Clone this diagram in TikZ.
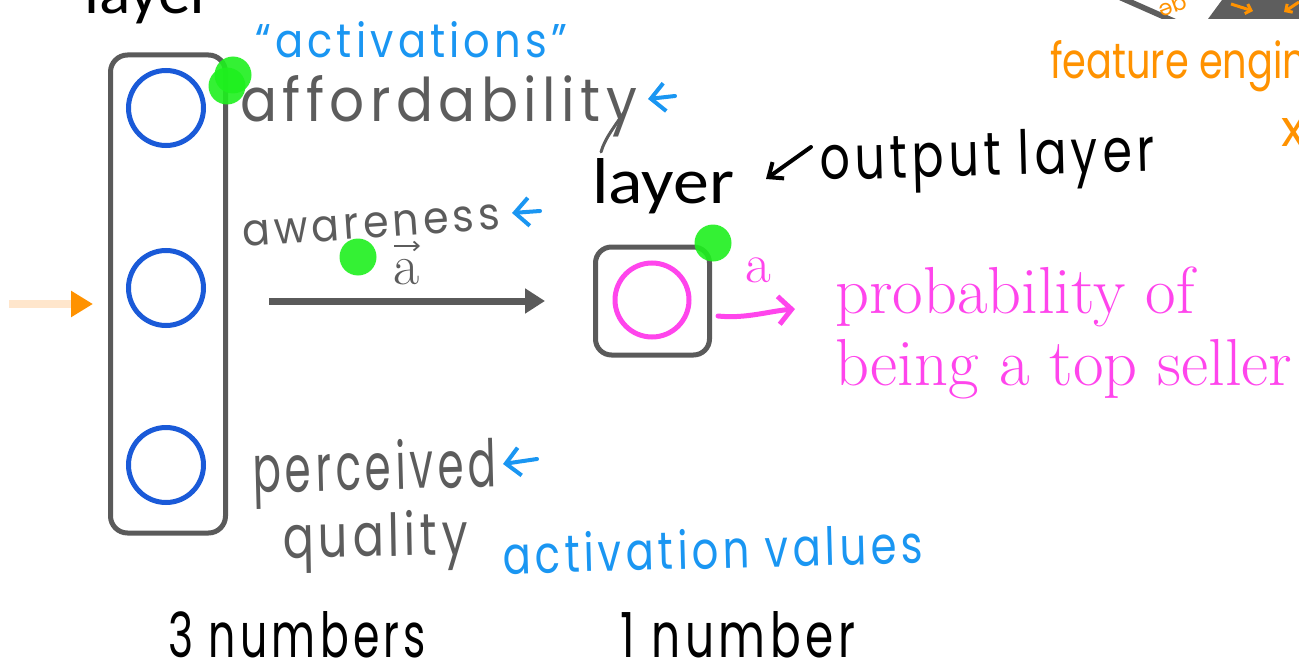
\documentclass[tikz,border=0pt]{standalone}
\usepackage{fontspec}
\usepackage{graphicx}
\usetikzlibrary{arrows.meta}
\newfontfamily\handfont{Poppins}[LetterSpace=10]
\newfontfamily\handtight{Poppins}
\newfontfamily\slidefont{Carlito}
\definecolor{boxgray}{HTML}{5A5A5A}
\definecolor{handgray}{HTML}{5C5C5C}
\definecolor{circblue}{HTML}{1A5AD8}
\definecolor{handblue}{HTML}{1A96F2}
\definecolor{magentac}{HTML}{FF45EC}
\definecolor{orangec}{HTML}{FF9200}
\definecolor{peachc}{HTML}{FFE6CC}
\definecolor{greenc}{HTML}{1EF01E}
\definecolor{darkslide}{HTML}{5E5E5E}
\tikzset{
  layerbox/.style={draw=boxgray, line width=5pt, rounded corners=17pt, inner sep=0},
  unit/.style={circle, draw=circblue, line width=5pt, minimum size=75pt, inner sep=0},
  outunit/.style={circle, draw=magentac, line width=5pt, minimum size=74pt, inner sep=0},
  marker/.style={circle, fill=greenc, fill opacity=0.9, minimum size=37pt, inner sep=0},
  hand/.style={inner sep=0, anchor=base west, font=\handfont\fontsize{40}{48}\selectfont},
  slide/.style={inner sep=0, anchor=base west, font=\slidefont\fontsize{60}{70}\selectfont},
  serif/.style={inner sep=0, anchor=base west, text=magentac, font=\fontsize{66.5}{78}\selectfont},
  bluearrow/.style={handblue, line width=4pt, line cap=round, line join=round,
    -{Straight Barb[length=14pt,width=28pt,line width=4pt]}},
  grayarrow/.style={boxgray, line width=7pt, -{Triangle[length=20pt,width=24pt]}},
}
\begin{document}
\begin{tikzpicture}[x=1pt,y=-1pt]
\useasboundingbox (0,0) rectangle (1299,669);
\clip (0,0) rectangle (1299,669);

% top-right slide remnants
\fill[darkslide] (1119,0) -- (1133,0) -- (1176,19) -- (1162,19) -- cycle;
\node[rotate=200, inner sep=0, text=orangec, font=\handtight\fontsize{22}{22}\selectfont] (ge) at (1172,4) {ge};
\fill[darkslide] (1208,19) -- (1222,0) -- (1299,0) -- (1299,19) -- cycle;
\coordinate (o1a) at (1231,4); \coordinate (o1b) at (1253,11);
\coordinate (o2a) at (1299,2); \coordinate (o2b) at (1284,12);
\draw[orangec, line width=3pt, -{Straight Barb[length=5pt,width=10pt,line width=3pt]}] (o1a) -- (o1b);
\draw[orangec, line width=3pt, -{Straight Barb[length=5pt,width=10pt,line width=3pt]}] (o2a) -- (o2b);
\node[inner sep=0, anchor=base west, text=orangec, font=\handtight\fontsize{40}{48}\selectfont] (feat) at (1050,78)
  {\scalebox{0.77}[1]{\resizebox{!}{38pt}{feature engineering}}};
\node[hand, text=orangec] (xo) at (1281,146) {\resizebox{!}{28pt}{x}};

% top-left cut-off title
\node[slide] (layer0) at (84,14) {\resizebox{129pt}{45pt}{layer}};

% hidden layer
\node[layerbox, minimum width=115pt, minimum height=478pt] (lbox) at (168,294) {};
\node[unit] (u1) at (166,108) {};
\node[unit] (u2) at (166,288) {};
\node[unit] (u3) at (166,465) {};
\node[marker] (g1) at (233,75) {};
\node[marker] (g2) at (227,86) {};

% input arrow
\coordinate (in0) at (9,304);
\draw[line width=8pt, peachc, shorten >=15pt, -{Triangle[length=22pt,width=25pt,color=orangec]}] (in0) -- (lbox.west |- in0);

% labels of hidden units
\node[hand, text=handblue] (act) at (255,58) {\resizebox{312pt}{36pt}{“activations”}};
\node[hand, text=handgray] (aff) at (240,121) {\resizebox{397pt}{46pt}{affordability}};
\draw[handgray, line width=3pt, line cap=round] (627,108) .. controls (615,126) and (605,138) .. (601,152);
\coordinate (b1t) at (675,96); \coordinate (b1h) at (648,99);
\draw[bluearrow] (b1t) -- (b1h);
\node[hand, text=handgray, rotate=4] (awa) at (243,247) {\resizebox{258pt}{25pt}{awareness}};
\coordinate (b2t) at (540,211); \coordinate (b2h) at (512,213);
\draw[bluearrow] (b2t) -- (b2h);
\node[hand, text=handgray, rotate=1.5] (per) at (253,493) {\resizebox{244pt}{50pt}{perceived}};
\node[hand, text=handgray, rotate=1] (qua) at (283,558) {\resizebox{185pt}{45pt}{quality}};
\coordinate (b3t) at (537,459); \coordinate (b3h) at (503,464);
\draw[bluearrow] (b3t) -- (b3h);

% vector a and main arrow
\node[marker] (g3) at (358,257) {};
\node[inner sep=0, anchor=base west, text=handgray, font=\fontsize{57}{64}\selectfont] (veca) at (393,284) {a};
\coordinate (va0) at (394,246); \coordinate (va1) at (420,246);
\draw[handgray, line width=1.8pt, -{Straight Barb[length=5pt,width=9pt,line width=1.8pt]}] (va0) -- (va1);
\coordinate (a0) at (269,301); \coordinate (a1) at (545,301);
\draw[grayarrow] (a0) -- (a1);

% output layer
\node[slide] (layer1) at (592,203) {\resizebox{142pt}{45pt}{layer}};
\coordinate (k0) at (811,147); \coordinate (k1) at (766,179);
\draw[black, line width=4pt, line cap=round, -{Straight Barb[length=12pt,width=20pt,line width=4pt]}] (k0) -- (k1);
\node[hand, text=black, rotate=1.5] (outl) at (820,180) {\resizebox{335pt}{45pt}{output layer}};
\node[layerbox, minimum width=114pt, minimum height=108pt, rounded corners=16pt] (obox) at (652.5,301) {};
\node[outunit] (ou) at (652,300) {};
\node[marker] (g4) at (713,243) {};
\node[inner sep=0, anchor=base west, text=magentac, font=\fontsize{56}{64}\selectfont] (outa) at (745,282) {a};
\coordinate (m1) at (795,309);
\draw[magentac, line width=5pt, line cap=round, -{Straight Barb[length=13pt,width=28pt,line width=5pt]}]
  ([shift={(6,15)}]obox.east) .. controls (745,319) and (770,311) .. (m1);
\node[serif] (prob1) at (835,313) {probability of};
\node[serif] (prob2) at (835,385) {being a top seller};

% bottom labels
\node[hand, text=handblue, rotate=1.5] (actv) at (503,574) {\resizebox{420pt}{40pt}{activation values}};
\node[hand, text=black] (n3) at (168,657) {\resizebox{258pt}{46pt}{3 numbers}};
\node[hand, text=black] (n1) at (620,657) {\resizebox{235pt}{46pt}{1 number}};
\end{tikzpicture}
\end{document}
